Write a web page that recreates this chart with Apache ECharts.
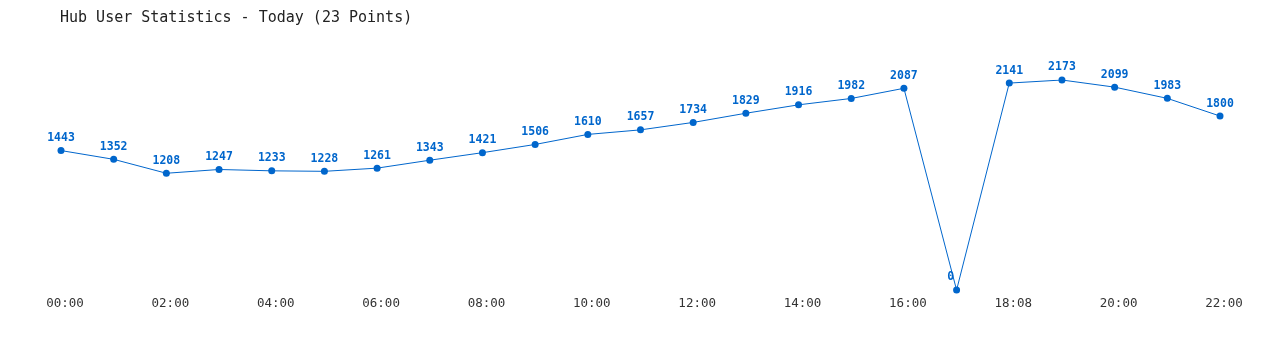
<!DOCTYPE html>
<html>
<head>
<meta charset="utf-8">
<script src="https://cdn.jsdelivr.net/npm/echarts@6/dist/echarts.min.js"></script>
<style>html,body{margin:0;padding:0;background:#fff;}#c{width:1280px;height:350px;}</style>
</head>
<body>
<div id="c"></div>
<script>
const categories = ['00:00','01:00','02:00','03:00','04:00','05:00','06:00','07:00','08:00','09:00','10:00','11:00','12:00','13:00','14:00','15:00','16:00','17:00','18:08','19:00','20:00','21:00','22:00'];
const users = [1443,1352,1208,1247,1233,1228,1261,1343,1421,1506,1610,1657,1734,1829,1916,1982,2087,0,2141,2173,2099,1983,1800];
const titleText = 'Hub User Statistics - Today (23 Points)';

const mono = '"DejaVu Sans Mono", "Liberation Mono", monospace';
const seriesData = users.map(v => v === 0 ? {value: v, label: {position: 'left', offset: [4, -13]}} : v);

const chart = echarts.init(document.getElementById('c'));
chart.setOption({
  animation: false,
  backgroundColor: '#fff',
  title: {
    text: titleText,
    left: 55, top: 6,
    textStyle: {fontFamily: mono, fontSize: 15, fontWeight: 'normal', color: '#222'}
  },
  grid: {left: 61, right: 60, top: 80, bottom: 60, containLabel: false},
  xAxis: {
    type: 'category',
    data: categories,
    boundaryGap: false,
    axisLine: {show: false},
    axisTick: {show: false},
    axisLabel: {interval: 1, margin: 7, padding: [0, 0, 0, 8], fontFamily: mono, fontSize: 12.5, color: '#333'}
  },
  yAxis: {
    type: 'value', min: 0, max: 2173,
    show: false,
    splitLine: {show: false}
  },
  series: [{
    type: 'line',
    data: seriesData,
    color: '#0066cc',
    lineStyle: {width: 1, color: '#0066cc'},
    symbol: 'circle',
    symbolSize: 7,
    itemStyle: {color: '#0066cc'},
    label: {show: true, position: 'top', distance: 3, fontFamily: mono, fontSize: 11.5, fontWeight: 'bold', color: '#0066cc'}
  }]
});
</script>
</body>
</html>
